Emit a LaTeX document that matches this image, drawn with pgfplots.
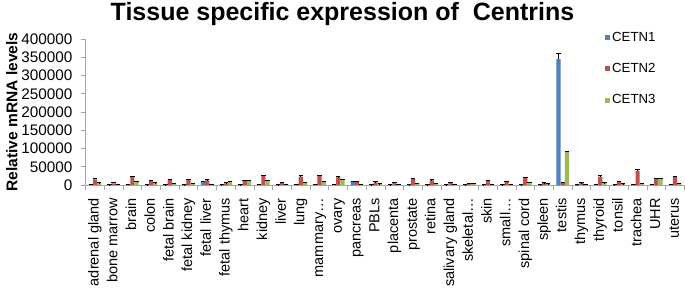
\documentclass[border=0pt]{standalone}
\usepackage{fontspec}
\setmainfont{Liberation Sans}
\usepackage{pgfplots}
\pgfplotsset{compat=1.18}
\usepackage{pgfplotstable}
\definecolor{cA}{HTML}{4F81BD}
\definecolor{cB}{HTML}{C0504D}
\definecolor{cC}{HTML}{9BBB59}
\definecolor{axgray}{HTML}{A6A6A6}

\pgfplotstableread{
x c1 e1 c2 e2 c3 e3
0 1500 500 15500 2800 5500 700
1 800 300 4600 2500 2000 500
2 1200 300 22000 2600 9100 800
3 900 300 11000 1800 5500 800
4 1000 300 14600 1800 4600 600
5 900 300 13700 1800 3700 500
6 8200 1800 12800 1800 2500 500
7 800 300 4600 1800 10000 800
8 1000 300 11900 1800 11900 1000
9 1500 400 24700 2700 11900 1000
10 900 300 6400 1800 2500 400
11 1200 300 22800 2800 7300 800
12 1500 400 25600 2000 9100 800
13 1200 300 21000 1800 13700 1800
14 9100 1900 9100 1500 2500 400
15 800 300 7300 1800 3000 400
16 800 300 6400 1800 2000 400
17 1000 300 16400 1900 4600 600
18 900 300 12800 1800 4000 500
19 800 300 6400 1800 2000 400
20 800 300 3700 1000 4000 500
21 900 300 11000 1800 2500 400
22 800 300 9100 1800 2000 400
23 1000 300 20000 2000 6400 700
24 900 300 5500 1000 3000 400
25 345000 17000 7300 1000 91000 2000
26 800 300 5500 1000 2000 400
27 1200 300 23000 2500 5500 600
28 900 300 8200 1500 3000 400
29 1500 400 39000 4000 4500 500
30 1500 400 16400 1800 17500 1000
31 1200 300 22000 2500 4000 500
}\data

\begin{document}
\begin{tikzpicture}
\useasboundingbox (-85.6pt,-112pt) rectangle (599.4pt,185pt);
\begin{axis}[
  scale only axis, width=598.8pt, height=146pt,
  ybar=0pt, bar width=4.2pt,
  xmin=-0.5, xmax=31.5, ymin=0, ymax=400000,
  axis x line*=bottom, axis y line*=left,
  axis line style={axgray, line width=0.8pt},
  tick style={axgray, line width=0.8pt},
  tick align=outside,
  major tick length=5pt, minor tick length=5pt,
  xtick={0,...,31},
  xticklabels={adrenal gland,bone marrow,brain,colon,fetal brain,fetal kidney,fetal liver,fetal thymus,heart,kidney,liver,lung,mammary\ldots,ovary,pancreas,PBLs,placenta,prostate,retina,salivary gland,skeletal\ldots,skin,small\ldots,spinal cord,spleen,testis,thymus,thyroid,tonsil,trachea,UHR,uterus},
  major x tick style={draw=none},
  minor xtick={-0.5,0.5,...,31.5},
  xticklabel style={yshift=-8pt, rotate=90, anchor=east, inner sep=0pt, text height=10.4pt, text depth=3pt, font=\fontsize{14.5}{15}\selectfont},
  ytick={0,50000,...,400000},
  scaled y ticks=false,
  yticklabel style={/pgf/number format/fixed, /pgf/number format/set thousands separator={}, /pgf/number format/assume math mode=true, inner sep=0pt, xshift=-8pt, font=\fontsize{15.3}{16}\selectfont},
  title={Tissue specific expression of~ Centrins},
  title style={at={(axis description cs:0.429,1)}, anchor=base, yshift=13pt, font=\bfseries\fontsize{25}{27}\selectfont},
  ylabel={Relative mRNA levels},
  ylabel style={at={(axis description cs:-0.123,0.5)}, anchor=center, font=\bfseries\fontsize{15.5}{17}\selectfont},
  legend style={at={(axis description cs:0.8674,1.0616)}, anchor=north west, draw=none, fill=none, font=\fontsize{13.2}{14}\selectfont, row sep=16.5pt, inner sep=0pt, cells={anchor=west}},
  error bars/error bar style={draw=black, line width=0.7pt},
  error bars/error mark options={rotate=90, draw=black, mark size=2.2pt, line width=0.7pt},
]
\addplot[fill=cA, draw=none, legend image code/.code={\fill[cA] (0pt,-2.5pt) rectangle (5pt,2.5pt);},
  error bars/.cd, y dir=plus, y explicit] table[x=x, y=c1, y error=e1] {\data};
\addplot[fill=cB, draw=none, legend image code/.code={\fill[cB] (0pt,-2.5pt) rectangle (5pt,2.5pt);},
  error bars/.cd, y dir=plus, y explicit] table[x=x, y=c2, y error=e2] {\data};
\addplot[fill=cC, draw=none, legend image code/.code={\fill[cC] (0pt,-2.5pt) rectangle (5pt,2.5pt);},
  error bars/.cd, y dir=plus, y explicit] table[x=x, y=c3, y error=e3] {\data};
\legend{CETN1,CETN2,CETN3}
\end{axis}
\end{tikzpicture}
\end{document}
